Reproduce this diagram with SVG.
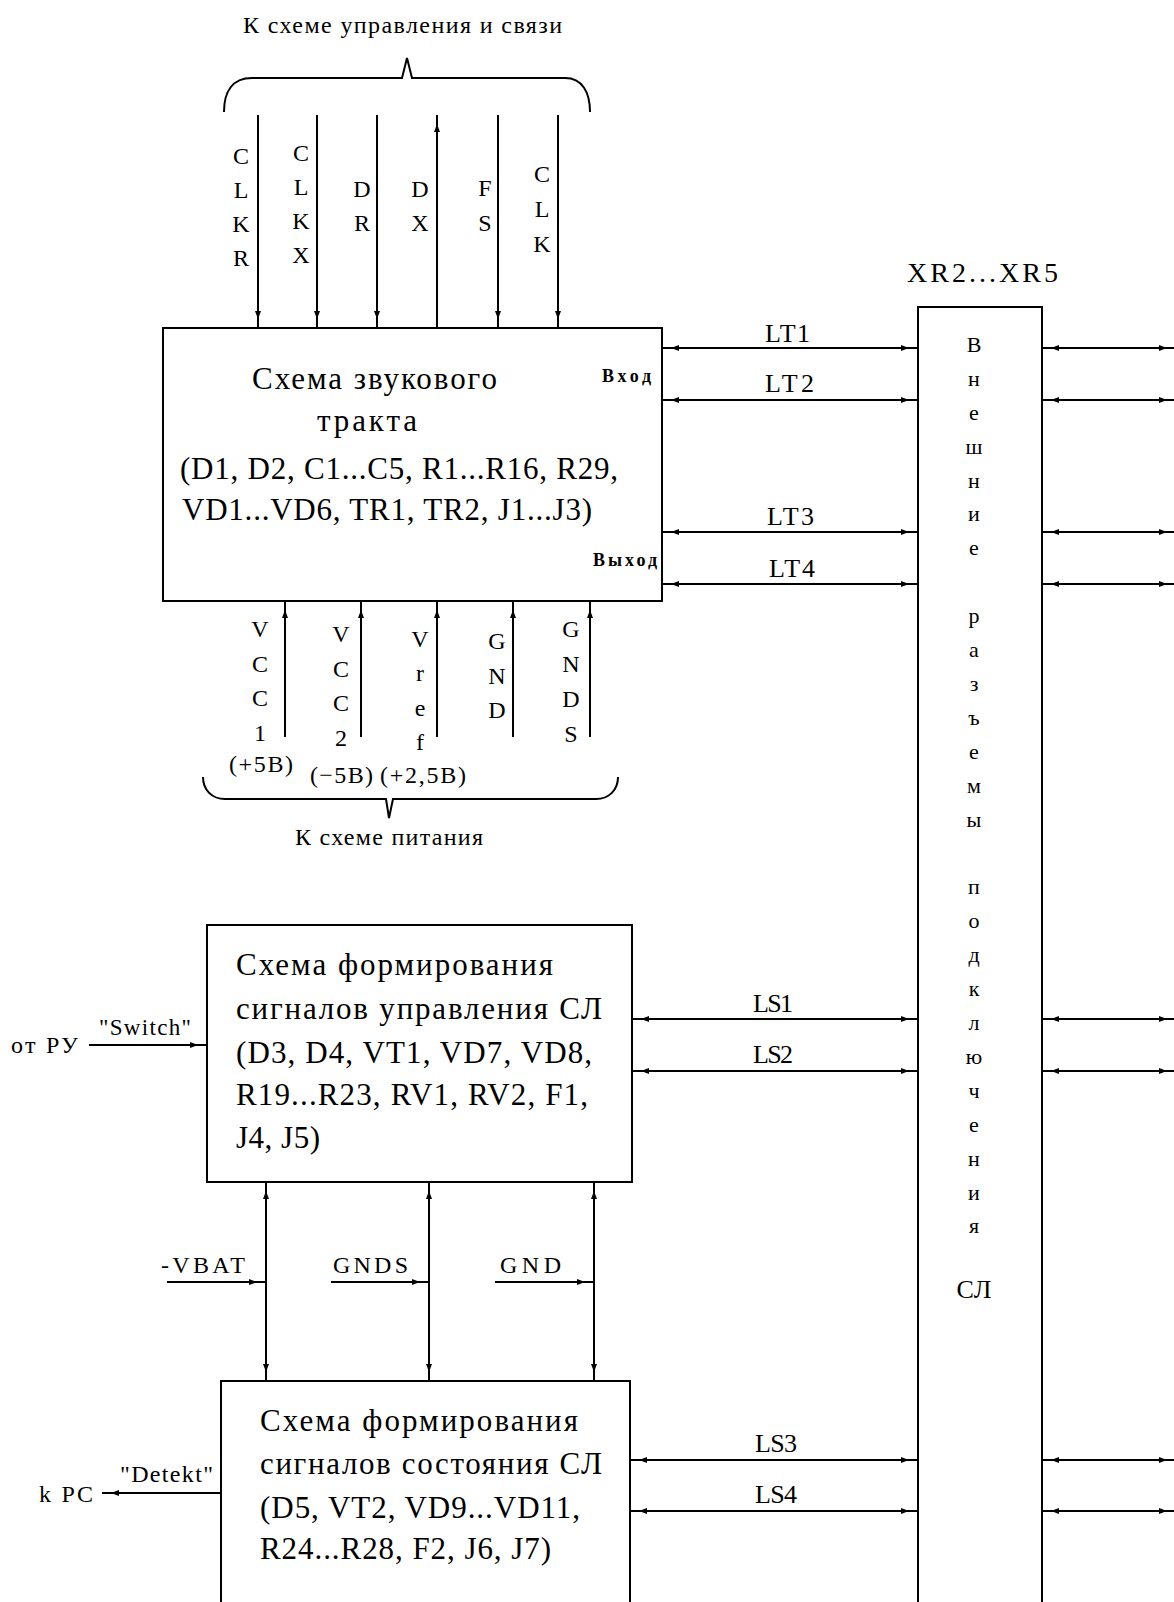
<svg xmlns="http://www.w3.org/2000/svg" width="1174" height="1602" viewBox="0 0 1174 1602">
<defs>
<style>
.bx{fill:#fff;stroke:#000;stroke-width:2}
.ln{fill:none;stroke:#000;stroke-width:2}
.ar{marker-end:url(#ah)}
.ar2{marker-start:url(#ah);marker-end:url(#ah)}
text{font-family:"Liberation Serif","DejaVu Serif",serif;fill:#000}
.m{font-size:31px}
.p{font-size:24px;text-anchor:middle}
.c{font-size:22px;text-anchor:middle}
.l{font-size:24px}
.s{font-size:18px;font-weight:bold}
</style>
<marker id="ah" markerUnits="userSpaceOnUse" markerWidth="20" markerHeight="8" refX="17" refY="3" orient="auto-start-reverse" overflow="visible"><path d="M0,0 L8,3 L0,6 Z" fill="#000"/></marker>
</defs>
<rect width="1174" height="1602" fill="#fff"/>

<g id="connectors">
<path class="ln" d="M224,112 C224,92 232,78 252,78 L402,78 L407,58 L412,78 L565,78 C582,78 590,92 590,112"/>
<path class="ln" d="M203,777 C203,790 212,799 225,799 L386,799 L389,818 L393,799 L596,799 C609,799 618,790 618,777"/>
<line class="ln ar" x1="258" y1="115" x2="258" y2="328"/>
<line class="ln ar" x1="317" y1="115" x2="317" y2="328"/>
<line class="ln ar" x1="377" y1="115" x2="377" y2="328"/>
<line class="ln ar" x1="437" y1="328" x2="437" y2="115"/>
<line class="ln ar" x1="498" y1="115" x2="498" y2="328"/>
<line class="ln ar" x1="558" y1="115" x2="558" y2="328"/>
<line class="ln ar" x1="285" y1="737" x2="285" y2="601"/>
<line class="ln ar" x1="361" y1="737" x2="361" y2="601"/>
<line class="ln ar" x1="437" y1="737" x2="437" y2="601"/>
<line class="ln ar" x1="513" y1="737" x2="513" y2="601"/>
<line class="ln ar" x1="590" y1="737" x2="590" y2="601"/>
<line class="ln ar2" x1="662" y1="348" x2="918" y2="348"/>
<line class="ln ar2" x1="662" y1="400" x2="918" y2="400"/>
<line class="ln ar2" x1="662" y1="532" x2="918" y2="532"/>
<line class="ln ar2" x1="662" y1="584" x2="918" y2="584"/>
<line class="ln ar2" x1="632" y1="1019" x2="918" y2="1019"/>
<line class="ln ar2" x1="632" y1="1071" x2="918" y2="1071"/>
<line class="ln ar2" x1="630" y1="1460" x2="918" y2="1460"/>
<line class="ln ar2" x1="630" y1="1511" x2="918" y2="1511"/>
<line class="ln ar2" x1="1042" y1="348" x2="1176" y2="348"/>
<line class="ln ar2" x1="1042" y1="400" x2="1176" y2="400"/>
<line class="ln ar2" x1="1042" y1="532" x2="1176" y2="532"/>
<line class="ln ar2" x1="1042" y1="584" x2="1176" y2="584"/>
<line class="ln ar2" x1="1042" y1="1019" x2="1176" y2="1019"/>
<line class="ln ar2" x1="1042" y1="1071" x2="1176" y2="1071"/>
<line class="ln ar2" x1="1042" y1="1460" x2="1176" y2="1460"/>
<line class="ln ar2" x1="1042" y1="1511" x2="1176" y2="1511"/>
<line class="ln ar2" x1="266" y1="1182" x2="266" y2="1381"/>
<line class="ln ar2" x1="429" y1="1182" x2="429" y2="1381"/>
<line class="ln ar2" x1="594" y1="1182" x2="594" y2="1381"/>
<line class="ln ar" x1="167" y1="1282" x2="266" y2="1282"/>
<line class="ln ar" x1="331" y1="1282" x2="429" y2="1282"/>
<line class="ln ar" x1="495" y1="1282" x2="594" y2="1282"/>
<line class="ln ar" x1="89" y1="1045" x2="207" y2="1045"/>
<line class="ln ar" x1="221" y1="1493" x2="102" y2="1493"/>
</g>

<g id="labels">
<text x="243" y="33" font-size="24" textLength="319" lengthAdjust="spacing">К схеме управления и связи</text>
<text x="295" y="845" font-size="24" textLength="188" lengthAdjust="spacing">К схеме питания</text>
<g class="p">
<text x="241" y="164">C</text><text x="241" y="198">L</text><text x="241" y="232">K</text><text x="241" y="266">R</text>
<text x="301" y="161">C</text><text x="301" y="195">L</text><text x="301" y="229">K</text><text x="301" y="263">X</text>
<text x="362" y="197">D</text><text x="362" y="231">R</text>
<text x="420" y="197">D</text><text x="420" y="231">X</text>
<text x="485" y="196">F</text><text x="485" y="231">S</text>
<text x="542" y="182">C</text><text x="542" y="217">L</text><text x="542" y="252">K</text>
<text x="260" y="637">V</text><text x="260" y="672">C</text><text x="260" y="706">C</text><text x="260" y="741">1</text>
<text x="341" y="642">V</text><text x="341" y="677">C</text><text x="341" y="711">C</text><text x="341" y="746">2</text>
<text x="420" y="647">V</text><text x="420" y="681">r</text><text x="420" y="716">e</text><text x="420" y="750">f</text>
<text x="497" y="649">G</text><text x="497" y="684">N</text><text x="497" y="718">D</text>
<text x="571" y="637">G</text><text x="571" y="672">N</text><text x="571" y="707">D</text><text x="571" y="742">S</text>
</g>
<text class="l" x="229" y="772" textLength="64" lengthAdjust="spacing">(+5В)</text>
<text class="l" x="310" y="783" textLength="63" lengthAdjust="spacing">(−5В)</text>
<text class="l" x="380" y="783" textLength="86" lengthAdjust="spacing">(+2,5В)</text>
<text x="765" y="342" font-size="26" textLength="45" lengthAdjust="spacing">LT1</text>
<text x="765" y="392" font-size="26" textLength="49" lengthAdjust="spacing">LT2</text>
<text x="767" y="525" font-size="26" textLength="47" lengthAdjust="spacing">LT3</text>
<text x="769" y="577" font-size="26" textLength="46" lengthAdjust="spacing">LT4</text>
<text x="753" y="1012" font-size="26" textLength="40" lengthAdjust="spacing">LS1</text>
<text x="753" y="1063" font-size="26" textLength="40" lengthAdjust="spacing">LS2</text>
<text x="755" y="1452" font-size="26" textLength="42" lengthAdjust="spacing">LS3</text>
<text x="755" y="1503" font-size="26" textLength="42" lengthAdjust="spacing">LS4</text>
<text class="l" x="11" y="1053" textLength="67" lengthAdjust="spacing">от РУ</text>
<text x="99" y="1035" font-size="23" textLength="92" lengthAdjust="spacing">"Switch"</text>
<text class="l" x="39" y="1502" textLength="54" lengthAdjust="spacing">k PC</text>
<text x="120" y="1482" font-size="24" textLength="93" lengthAdjust="spacing">"Detekt"</text>
<text class="l" x="161" y="1273" textLength="84" lengthAdjust="spacing">-VBAT</text>
<text class="l" x="333" y="1273" textLength="75" lengthAdjust="spacing">GNDS</text>
<text class="l" x="500" y="1273" textLength="61" lengthAdjust="spacing">GND</text>
</g>

<g id="n-audio">
<rect class="bx" x="163" y="328" width="499" height="273"/>
<text class="m" x="252" y="389" textLength="245" lengthAdjust="spacing">Схема звукового</text>
<text class="m" x="317" y="431" textLength="100" lengthAdjust="spacing">тракта</text>
<text class="m" x="180" y="479" textLength="438" lengthAdjust="spacing">(D1, D2, C1...C5, R1...R16, R29,</text>
<text class="m" x="182" y="520" textLength="410" lengthAdjust="spacing">VD1...VD6, TR1, TR2, J1...J3)</text>
<text class="s" x="602" y="382" textLength="49" lengthAdjust="spacing">Вход</text>
<text class="s" x="593" y="566" textLength="64" lengthAdjust="spacing">Выход</text>
</g>

<g id="n-control">
<rect class="bx" x="207" y="925" width="425" height="257"/>
<text class="m" x="236" y="975" textLength="317" lengthAdjust="spacing">Схема формирования</text>
<text class="m" x="236" y="1019" textLength="366" lengthAdjust="spacing">сигналов управления СЛ</text>
<text class="m" x="236" y="1063" textLength="356" lengthAdjust="spacing">(D3, D4, VT1, VD7, VD8,</text>
<text class="m" x="236" y="1105" textLength="352" lengthAdjust="spacing">R19...R23, RV1, RV2, F1,</text>
<text class="m" x="236" y="1148" textLength="84" lengthAdjust="spacing">J4, J5)</text>
</g>

<g id="n-state">
<rect class="bx" x="221" y="1381" width="409" height="240"/>
<text class="m" x="260" y="1431" textLength="318" lengthAdjust="spacing">Схема формирования</text>
<text class="m" x="260" y="1474" textLength="342" lengthAdjust="spacing">сигналов состояния СЛ</text>
<text class="m" x="260" y="1518" textLength="320" lengthAdjust="spacing">(D5, VT2, VD9...VD11,</text>
<text class="m" x="260" y="1559" textLength="291" lengthAdjust="spacing">R24...R28, F2, J6, J7)</text>
</g>

<g id="n-xr">
<text x="907" y="282" font-size="28" textLength="151" lengthAdjust="spacing">XR2...XR5</text>
<rect class="bx" x="918" y="307" width="124" height="1310"/>
<g class="c">
<text x="974" y="352">В</text>
<text x="974" y="386">н</text>
<text x="974" y="420">е</text>
<text x="974" y="454">ш</text>
<text x="974" y="488">н</text>
<text x="974" y="521">и</text>
<text x="974" y="555">е</text>
<text x="974" y="623">р</text>
<text x="974" y="657">а</text>
<text x="974" y="691">з</text>
<text x="974" y="725">ъ</text>
<text x="974" y="759">е</text>
<text x="974" y="793">м</text>
<text x="974" y="827">ы</text>
<text x="974" y="894">п</text>
<text x="974" y="928">о</text>
<text x="974" y="962">д</text>
<text x="974" y="996">к</text>
<text x="974" y="1030">л</text>
<text x="974" y="1064">ю</text>
<text x="974" y="1098">ч</text>
<text x="974" y="1132">е</text>
<text x="974" y="1166">н</text>
<text x="974" y="1200">и</text>
<text x="974" y="1233">я</text>
<text x="974" y="1298" font-size="26" textLength="35" lengthAdjust="spacing">СЛ</text>
</g>
</g>
</svg>
